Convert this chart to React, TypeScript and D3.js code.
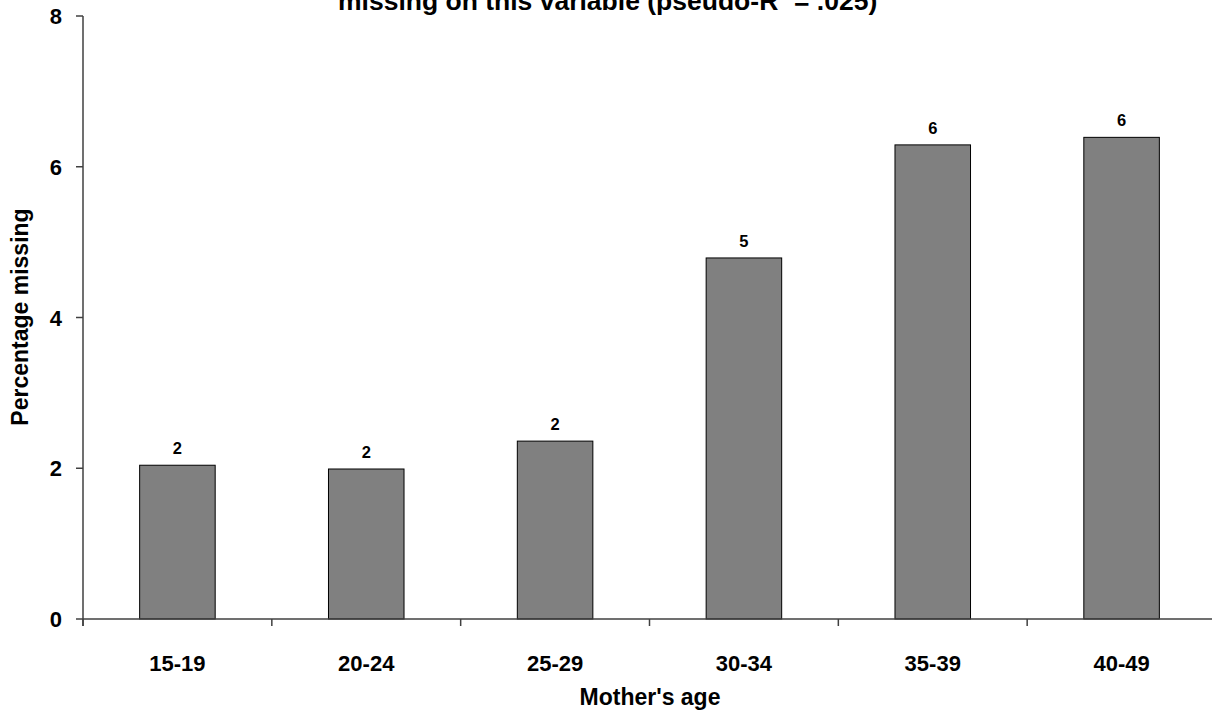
import React from "react";
import * as d3 from "d3";

const categories = ["15-19", "20-24", "25-29", "30-34", "35-39", "40-49"];
const values = [2.04, 1.99, 2.36, 4.79, 6.29, 6.39];
const yTicks = [0, 2, 4, 6, 8];
const titleMain = "missing on this variable (pseudo-R";
const titleSup = "2";
const titleEnd = " = .025)";
const xTitle = "Mother's age";
const yTitle = "Percentage missing";

const W = 1212;
const H = 711;
const left = 83;
const right = 1216;
const top = 16;
const bottom = 619;
const font = "Liberation Sans, Arial, sans-serif";
const axisColor = "#404040";

export default function App() {
  const x = d3.scaleBand<string>().domain(categories).range([left, right]).paddingInner(0).paddingOuter(0);
  const y = d3.scaleLinear().domain([0, 8]).range([bottom, top]);
  const bw = x.bandwidth() * 0.4;
  const boundaries = categories.map((c) => x(c)!).concat([right]);

  return (
    <svg width={W} height={H} style={{ position: "absolute", left: 0, top: 0 }} fontFamily={font}>
      <rect x={0} y={0} width={W} height={H} fill="#fff" />
      <text x={338} y={10} textAnchor="start" fontSize={26.5} fontWeight="bold">
        {titleMain}
        <tspan fontSize={15} dy={-11}>{titleSup}</tspan>
        <tspan dy={11}>{titleEnd}</tspan>
      </text>
      {categories.map((c, i) => {
        const cx = x(c)! + x.bandwidth() / 2;
        return (
          <g key={c}>
            <rect
              x={cx - bw / 2}
              y={y(values[i])}
              width={bw}
              height={bottom - y(values[i])}
              fill="#808080"
              stroke="#000"
              strokeWidth={1}
            />
            <text x={cx} y={y(values[i]) - 11} textAnchor="middle" fontSize={16.5} fontWeight="bold">
              {Math.round(values[i])}
            </text>
            <text x={cx} y={671} textAnchor="middle" fontSize={22} fontWeight="bold">
              {c}
            </text>
          </g>
        );
      })}
      <line x1={left} x2={left} y1={top} y2={bottom + 7} stroke={axisColor} strokeWidth={1.5} />
      <line x1={left} x2={right} y1={bottom} y2={bottom} stroke={axisColor} strokeWidth={1.5} />
      {boundaries.map((b, i) => (
        <line key={i} x1={b} x2={b} y1={bottom} y2={bottom + 7} stroke={axisColor} strokeWidth={1.5} />
      ))}
      {yTicks.map((t) => (
        <g key={t}>
          <line x1={left - 7} x2={left} y1={y(t)} y2={y(t)} stroke={axisColor} strokeWidth={1.5} />
          <text x={62} y={y(t) + 8} textAnchor="end" fontSize={22} fontWeight="bold">
            {t}
          </text>
        </g>
      ))}
      <text x={650} y={705} textAnchor="middle" fontSize={23} fontWeight="bold">
        {xTitle}
      </text>
      <text
        transform={`translate(28, 317) rotate(-90)`}
        textAnchor="middle"
        fontSize={23}
        fontWeight="bold"
      >
        {yTitle}
      </text>
    </svg>
  );
}
